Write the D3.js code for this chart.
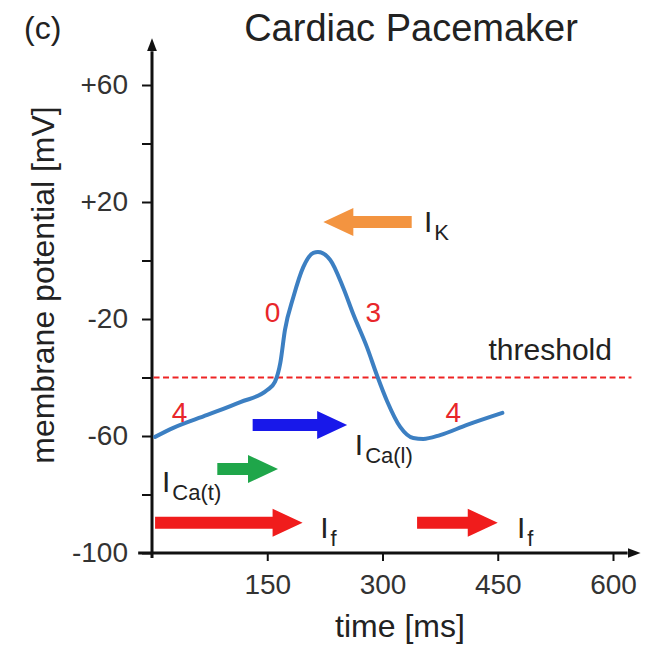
<!DOCTYPE html>
<head>
<meta charset="utf-8">
<style>
body { margin: 0; background: #fff; }
svg text { font-family: "Liberation Sans", Arial, Helvetica, sans-serif; fill: #222; }
.trace {
  fill: none;
  stroke: #3c7fc2;
  stroke-width: 4px;
  stroke-linejoin: round;
  stroke-linecap: round;
}
.threshold { stroke: #ee2424; stroke-width: 2px; stroke-dasharray: 6,3.5; }
.axis line { stroke: #111; stroke-width: 2px; }
.axis text { font-size: 28px; fill: #333; }
.axisline { stroke: #111; stroke-width: 3px; }
.phase { font-size: 28px; fill: #e8262a !important; text-anchor: middle; }
.current { font-size: 30px; }
.current tspan.sub { font-size: 22px; }
</style>
<script src="https://d3js.org/d3.v7.min.js"></script>
</head>
<body>
<svg class="pacemaker" width="660" height="649"></svg>
<script>

// Action potential trace.
var timeMs      = [4, 27, 72, 115, 150, 160, 167, 173, 184, 197, 210, 216, 232, 249, 262, 280, 293, 306, 323, 340, 353, 375, 410, 456];
var potentialMv = [-60.3, -57.3, -52.8, -48.4, -44.3, -41.5, -35, -23.8, -12.5, -2.2, 2.6, 2.9, 0.2, -9.4, -18.4, -29.8, -39.4, -48.1, -56.9, -60.7, -61, -59.7, -56.2, -52.1];

var thresholdMv = -40;
var yTicks = [-100, -80, -60, -40, -20, 0, 20, 40, 60];
var yTickLabels = [-100, -60, -20, 20, 60];
var xTicks = [150, 300, 450, 600];

// Phase numbers placed on the trace.
var phaseText = ["4", "0", "3", "4"];
var phaseTime = [36, 157, 288, 392];
var phaseMv   = [-55.2, -21, -21, -55.2];

// Ion currents: arrow from tail to tip at a given potential, label start.
var currentName = ["K", "Ca(l)", "Ca(t)", "f", "f"];
var currentTail = [338, 131, 85, 4, 345];
var currentTip  = [223, 254, 164, 196, 450];
var currentMv   = [13.2, -56.2, -71.3, -89.7, -89.7];
var labelTime   = [354, 264, 13, 219, 475];
var labelMv     = [9.7, -66.5, -79.1, -94.9, -94.9];
var currentColor = {"K": "#f39440", "Ca(l)": "#1818ea", "Ca(t)": "#1fa64a", "f": "#f01c1c"};

function drawChart() {
  var svg = d3.select(".pacemaker");
  var x = d3.scaleLinear().domain([0, 600]).range([152, 613]);
  var y = d3.scaleLinear().domain([-100, 60]).range([553, 85]);

  // Axis arrow heads.
  svg.append("defs").append("marker")
    .attr("id", "head")
    .attr("markerUnits", "userSpaceOnUse")
    .attr("viewBox", "0 0 13 10")
    .attr("refX", 0).attr("refY", 5)
    .attr("markerWidth", 13).attr("markerHeight", 10)
    .attr("orient", "auto")
    .append("path").attr("d", "M0,0L13,5L0,10Z").attr("fill", "#111");

  // Y axis ticks and labels.
  var gy = svg.append("g")
    .attr("class", "axis")
    .attr("transform", "translate(" + x(0) + ",0)")
    .call(d3.axisLeft(y).tickValues(yTicks).tickSize(10).tickPadding(14)
      .tickFormat(function(d) {
        if (yTickLabels.indexOf(d) < 0) return "";
        return d > 0 ? "+" + d : "" + d;
      }));
  gy.select(".domain").remove();

  // X axis ticks and labels.
  var gx = svg.append("g")
    .attr("class", "axis")
    .attr("transform", "translate(0," + y(-100) + ")")
    .call(d3.axisBottom(x).tickValues(xTicks).tickSize(8).tickPadding(13));
  gx.select(".domain").remove();

  // Axis lines with arrows.
  svg.append("line").attr("class", "axisline")
    .attr("x1", x(0)).attr("x2", x(0))
    .attr("y1", y(-101.7)).attr("y2", y(71.5))
    .attr("marker-end", "url(#head)");
  svg.append("line").attr("class", "axisline")
    .attr("x1", x(-18)).attr("x2", x(619))
    .attr("y1", y(-100)).attr("y2", y(-100))
    .attr("marker-end", "url(#head)");

  // Threshold.
  svg.append("line").attr("class", "threshold")
    .attr("x1", x(2)).attr("x2", x(624))
    .attr("y1", y(thresholdMv)).attr("y2", y(thresholdMv));
  svg.append("text")
    .attr("x", x(438)).attr("y", y(thresholdMv) - 18)
    .style("font-size", "30px")
    .text("threshold");

  // The trace.
  var line = d3.line()
    .curve(d3.curveMonotoneX)
    .x(function(d, i) { return x(timeMs[i]); })
    .y(function(d, i) { return y(potentialMv[i]); });
  svg.append("path")
    .datum(potentialMv)
    .attr("class", "trace")
    .attr("d", line);

  // Phase numbers.
  svg.selectAll(".phase").data(phaseText).enter().append("text")
    .attr("class", "phase")
    .attr("x", function(d, i) { return x(phaseTime[i]); })
    .attr("y", function(d, i) { return y(phaseMv[i]); })
    .text(function(d) { return d; });

  // Current arrows.
  svg.selectAll(".arrow").data(currentName).enter().append("path")
    .attr("class", "arrow")
    .attr("fill", function(d) { return currentColor[d]; })
    .attr("d", function(d, i) {
      var x0 = x(currentTail[i]), x1 = x(currentTip[i]), yy = y(currentMv[i]);
      var dir = x1 > x0 ? 1 : -1, hb = x1 - dir * 30;
      return "M" + x0 + "," + (yy - 6) + "L" + hb + "," + (yy - 6) + "L" + hb + "," + (yy - 14) +
        "L" + x1 + "," + yy + "L" + hb + "," + (yy + 14) + "L" + hb + "," + (yy + 6) +
        "L" + x0 + "," + (yy + 6) + "Z";
    });

  var labels = svg.selectAll(".current").data(currentName).enter().append("text")
    .attr("class", "current")
    .attr("x", function(d, i) { return x(labelTime[i]); })
    .attr("y", function(d, i) { return y(labelMv[i]); });
  labels.append("tspan").text("I");
  labels.append("tspan").attr("class", "sub").attr("dx", 2).attr("dy", 8)
    .text(function(d) { return d; });

  // Titles.
  svg.append("text").attr("x", 24).attr("y", 39).style("font-size", "32px").text("(c)");
  svg.append("text").attr("x", 411).attr("y", 41).attr("text-anchor", "middle")
    .style("font-size", "38px").text("Cardiac Pacemaker");
  svg.append("text").attr("x", 400).attr("y", 637).attr("text-anchor", "middle")
    .style("font-size", "32px").text("time [ms]");
  svg.append("text")
    .attr("transform", "translate(54,285) rotate(-90)")
    .attr("text-anchor", "middle")
    .style("font-size", "32px")
    .text("membrane potential [mV]");
}

drawChart();
</script>
</body>
